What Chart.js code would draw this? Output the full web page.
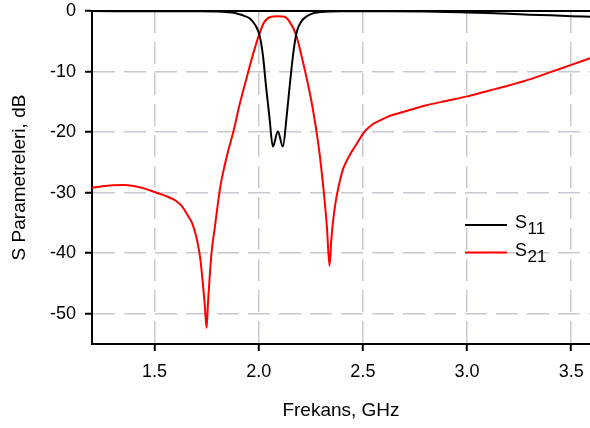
<!DOCTYPE html>
<html><head><meta charset="utf-8">
<script src="https://cdn.jsdelivr.net/npm/chart.js@4/dist/chart.umd.min.js"></script>
<style>html,body{margin:0;padding:0;background:#fff;}#wrap{width:590px;height:428px;position:relative;}</style>
</head><body><div id="wrap"><canvas id="c" width="590" height="428"></canvas></div>
<script>
const seriesNames = ['S11', 'S21'];
const seriesColors = ['#000000', '#ff0000'];
const freqS11 = [1.20,1.50,1.70,1.80,1.85,1.88,1.908,1.93,1.956,1.975,1.988,2.004,2.02,2.036,2.052,2.068,2.092,2.116,2.135,2.151,2.167,2.183,2.204,2.228,2.26,2.30,2.40,2.60,2.80,2.90,3.00,3.10,3.20,3.30,3.40,3.50,3.59];
const s11 = [-0.02,-0.03,-0.05,-0.1,-0.2,-0.3,-0.55,-0.8,-1.2,-1.9,-2.6,-4.0,-7.25,-12.7,-17.7,-22.4,-19.9,-22.4,-17.1,-11.6,-6.7,-3.4,-1.76,-0.94,-0.4,-0.15,-0.05,-0.05,-0.1,-0.15,-0.25,-0.35,-0.45,-0.6,-0.7,-0.85,-0.95];
const freqS21 = [1.20,1.25,1.30,1.35,1.40,1.45,1.50,1.55,1.60,1.63,1.66,1.68,1.70,1.71,1.72,1.73,1.74,1.75,1.757,1.765,1.775,1.79,1.805,1.818,1.836,1.855,1.878,1.908,1.94,1.972,2.004,2.028,2.06,2.09,2.124,2.148,2.18,2.212,2.252,2.276,2.292,2.308,2.327,2.34,2.348,2.356,2.364,2.372,2.388,2.404,2.42,2.44,2.46,2.48,2.50,2.52,2.54,2.56,2.58,2.61,2.65,2.70,2.75,2.80,2.90,3.00,3.10,3.20,3.30,3.40,3.50,3.59];
const s21 = [-29.2,-28.95,-28.8,-28.75,-28.9,-29.3,-29.9,-30.5,-31.3,-32.2,-33.8,-35.0,-37.2,-38.9,-41.0,-44.3,-48.0,-52.3,-48.0,-43.8,-39.5,-35.6,-31.6,-28.6,-25.6,-22.9,-20.0,-15.5,-11.3,-7.25,-3.7,-1.76,-0.94,-0.85,-0.94,-1.76,-4.0,-8.35,-14.7,-19.6,-23.5,-28.4,-35.5,-42.1,-38.0,-35.0,-32.8,-31.0,-28.3,-26.2,-24.9,-23.6,-22.5,-21.4,-20.3,-19.5,-18.9,-18.45,-18.1,-17.6,-17.1,-16.6,-16.1,-15.6,-14.85,-14.1,-13.2,-12.3,-11.3,-10.1,-8.9,-7.8];
const xTickValues = [1.5, 2.0, 2.5, 3.0, 3.5];
const yTickValues = [0, -10, -20, -30, -40, -50];
const xMin = 1.2, xMax = 3.59, yMin = -55, yMax = 0;
const xTitle = 'Frekans, GHz';
const yTitle = 'S Parametreleri, dB';

const FONT = '"Liberation Sans", Arial, sans-serif';
Chart.defaults.font.family = FONT;
Chart.defaults.color = '#000';

const toPoints = (xs, ys) => xs.map((x, i) => ({x: x, y: ys[i]}));

const frameAndLegend = {
  id: 'frameAndLegend',
  afterDraw(chart) {
    const {ctx, chartArea: a} = chart;
    ctx.save();
    ctx.strokeStyle = '#000';
    ctx.lineWidth = 2;
    ctx.beginPath();
    ctx.moveTo(a.left - 1, a.top);
    ctx.lineTo(a.right, a.top);
    ctx.stroke();
    chart.data.datasets.forEach((ds, i) => {
      const y = 225 + i * 27.5;
      ctx.strokeStyle = ds.borderColor;
      ctx.lineWidth = 2;
      ctx.beginPath();
      ctx.moveTo(465, y);
      ctx.lineTo(507, y);
      ctx.stroke();
      ctx.fillStyle = '#000';
      ctx.textAlign = 'left';
      ctx.textBaseline = 'alphabetic';
      ctx.font = '18px ' + FONT;
      const main = ds.label.charAt(0), sub = ds.label.slice(1);
      ctx.fillText(main, 515, y + 3);
      const w = ctx.measureText(main).width;
      ctx.font = '17px ' + FONT;
      ctx.fillText(sub, 515 + w + 0.5, y + 9);
    });
    ctx.restore();
  }
};

new Chart(document.getElementById('c'), {
  type: 'line',
  data: {
    datasets: [
      {label: seriesNames[0], data: toPoints(freqS11, s11), borderColor: seriesColors[0], borderWidth: 2, pointRadius: 0, fill: false, cubicInterpolationMode: 'monotone'},
      {label: seriesNames[1], data: toPoints(freqS21, s21), borderColor: seriesColors[1], borderWidth: 2, pointRadius: 0, fill: false, cubicInterpolationMode: 'monotone'}
    ]
  },
  options: {
    responsive: false,
    animation: false,
    devicePixelRatio: 1,
    layout: {padding: {top: 11, right: 0, bottom: 0, left: 0}},
    plugins: {legend: {display: false}, tooltip: {enabled: false}},
    scales: {
      x: {
        type: 'linear', min: xMin, max: xMax,
        afterBuildTicks: s => { s.ticks = xTickValues.map(v => ({value: v})); },
        afterFit: s => { s.height = 84; s.paddingLeft = 0; s.paddingRight = 0; },
        ticks: {callback: v => Number(v).toFixed(1), font: {size: 18}, color: '#000', padding: 10, maxRotation: 0, autoSkip: false},
        grid: {color: '#c8c8d2', lineWidth: 1.5, tickColor: '#000', tickLength: 7, tickWidth: 2, tickBorderDash: []},
        border: {color: '#000', width: 2, dash: [22, 9]},
        title: {display: true, text: xTitle, font: {size: 19}, color: '#000', padding: {top: 0, bottom: 6}}
      },
      y: {
        type: 'linear', min: yMin, max: yMax,
        afterBuildTicks: s => { s.ticks = yTickValues.map(v => ({value: v})); },
        afterFit: s => { s.width = 92; s.paddingTop = 0; s.paddingBottom = 0; },
        ticks: {font: {size: 18}, color: '#000', padding: 9},
        grid: {color: '#c8c8d2', lineWidth: 1.5, tickColor: '#000', tickLength: 7, tickWidth: 2, tickBorderDash: []},
        border: {color: '#000', width: 2, dash: [22, 9]},
        title: {display: true, text: yTitle, font: {size: 19}, color: '#000', padding: {top: 8, bottom: 0}}
      }
    }
  },
  plugins: [frameAndLegend]
});
</script>
</body></html>
